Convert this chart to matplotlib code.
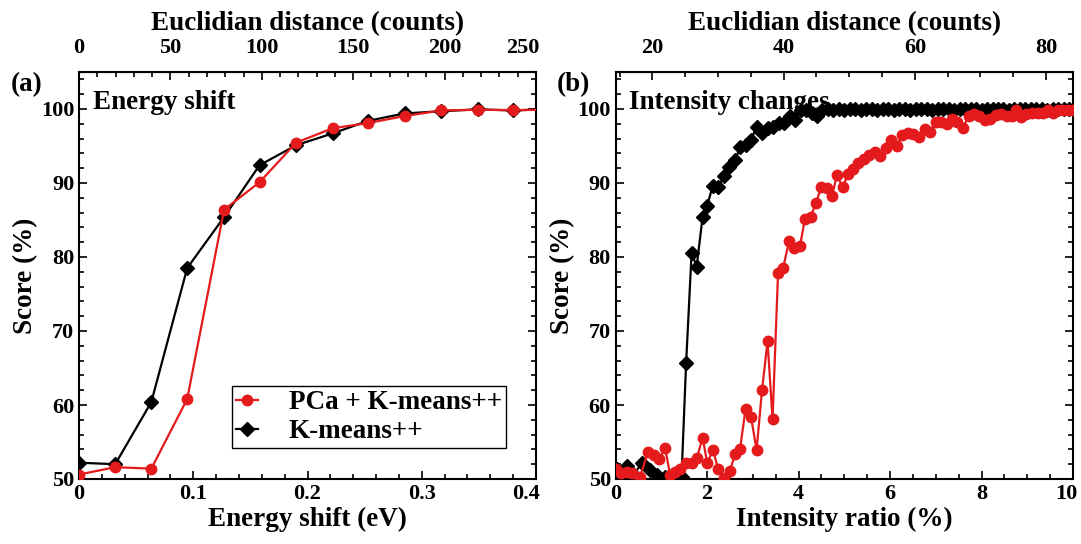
import matplotlib
matplotlib.use("Agg")
import matplotlib.pyplot as plt
from matplotlib.ticker import FixedLocator, MultipleLocator, FuncFormatter
import numpy as np

plt.rcParams['font.family'] = ['Liberation Serif', 'DejaVu Serif']
plt.rcParams['font.weight'] = 'bold'
plt.rcParams['axes.labelweight'] = 'bold'
plt.rcParams['mathtext.default'] = 'regular'

RED = '#e41a1c'

# ---------------- panel (a) data ----------------
energy_shift = [0.0, 0.0317, 0.0633, 0.0947, 0.127, 0.158, 0.190, 0.222,
                0.253, 0.285, 0.317, 0.349, 0.380, 0.412]
score_a_pca = [50.6, 51.6, 51.4, 60.8, 86.4, 90.1, 95.45, 97.4,
               98.1, 99.05, 99.8, 99.9, 99.85, 99.9]
score_a_km = [52.2, 52.0, 60.4, 78.5, 85.4, 92.4, 95.1, 96.7,
              98.4, 99.4, 99.7, 99.95, 99.8, 100.0]

# ---------------- panel (b) data ----------------
ratio_pca = [0.0, 0.12, 0.24, 0.36, 0.53, 0.71, 0.84, 0.95, 1.08, 1.19, 1.30,
             1.40, 1.54, 1.66, 1.78, 1.90, 2.00, 2.13, 2.24, 2.37, 2.50,
             2.61, 2.72, 2.84, 2.96, 3.08, 3.20, 3.32, 3.43, 3.55, 3.66,
             3.79, 3.90, 4.03, 4.14, 4.26, 4.38, 4.49, 4.61, 4.73, 4.84,
             4.96, 5.08, 5.19, 5.30, 5.42, 5.54, 5.67, 5.79, 5.91, 6.03,
             6.15, 6.27, 6.39, 6.50, 6.63, 6.76, 6.88, 7.00, 7.12, 7.24,
             7.36, 7.47, 7.59, 7.72, 7.83, 7.94, 8.07, 8.19, 8.31, 8.43,
             8.56, 8.67, 8.76, 8.87, 8.98, 9.11, 9.23, 9.34, 9.45, 9.56,
             9.68, 9.79, 9.90, 10.0]
score_b_pca = [51.3, 50.8, 51.0, 50.8, 50.3, 53.7, 53.2, 52.7, 54.2, 50.6, 51.0,
               51.3, 52.2, 52.2, 52.9, 55.6, 52.2, 53.9, 51.3, 50.1, 51.1,
               53.4, 54.1, 59.5, 58.4, 53.9, 62.0, 68.6, 58.1, 77.8, 78.5,
               82.1, 81.2, 81.5, 85.2, 85.4, 87.3, 89.4, 89.3, 88.3, 91.1,
               89.4, 91.2, 91.9, 92.7, 93.2, 93.8, 94.2, 93.6, 94.7, 95.8,
               95.0, 96.5, 96.8, 96.6, 96.2, 97.3, 96.9, 98.3, 98.2, 98.0,
               98.7, 98.2, 97.4, 99.1, 99.3, 99.0, 98.5, 98.6, 99.2, 99.3,
               99.1, 99.0, 99.8, 98.9, 99.3, 99.5, 99.4, 99.5, 99.8, 99.5,
               99.8, 99.9, 99.9, 99.8]

ratio_km = [0.02, 0.24, 0.39, 0.57, 0.75, 0.90, 1.08, 1.26, 1.44, 1.54, 1.66,
            1.77, 1.90, 2.00, 2.12, 2.24, 2.37, 2.48, 2.61, 2.72, 2.84,
            2.96, 3.08, 3.20, 3.32, 3.44, 3.57, 3.68, 3.81, 3.92, 4.05,
            4.17, 4.30, 4.40, 4.52, 4.64, 4.76, 4.88, 5.00, 5.12, 5.24,
            5.36, 5.48, 5.60, 5.72, 5.84, 5.96, 6.08, 6.20, 6.32, 6.44,
            6.56, 6.68, 6.80, 6.92, 7.04, 7.16, 7.28, 7.40, 7.52, 7.64,
            7.76, 7.88, 8.00, 8.12, 8.24, 8.36, 8.48, 8.60, 8.72, 8.84,
            8.96, 9.08, 9.20, 9.32, 9.44, 9.56, 9.68, 9.80, 9.92, 10.04]
score_b_km = [51.4, 51.8, 50.5, 52.2, 51.2, 50.5, 50.3, 50.3, 50.3, 65.7, 80.6,
              78.7, 85.4, 86.9, 89.6, 89.5, 90.9, 92.1, 93.1, 94.8, 95.1,
              95.8, 97.6, 96.8, 97.4, 97.6, 98.1, 98.1, 99.0, 98.5, 99.9,
              99.8, 99.5, 99.1, 99.9, 100.0, 99.9, 100.0, 99.9, 100.0, 100.0,
              99.9, 100.0, 100.0, 99.9, 100.0, 100.0, 99.9, 100.0, 100.0, 99.9,
              100.0, 100.0, 100.0, 99.9, 100.0, 100.0, 100.0, 99.9, 100.0, 100.0,
              100.0, 100.0, 99.9, 100.0, 100.0, 100.0, 100.0, 99.9, 100.0, 100.0,
              100.0, 100.0, 100.0, 100.0, 99.9, 100.0, 100.0, 100.0, 100.0, 100.0]

# tick labels
ticks_a_bottom = [0, 0.1, 0.2, 0.3]
ticks_a_top = [0, 50, 100, 150, 200]
ticks_b_bottom = [0, 2, 4, 6, 8]
ticks_b_top = [20, 40, 60, 80]
score_ticks = [50, 60, 70, 80, 90, 100]

# conversion to Euclidian distance (counts) for the top axes
COUNTS_PER_EV = 625.0
COUNTS_OFFSET_B = 14.4
COUNTS_PER_PCT = 6.97

fig = plt.figure(figsize=(10.81, 5.44), dpi=100)
axa = fig.add_axes([79/1081, 65/544, 457/1081, 407/544])
axb = fig.add_axes([615.7/1081, 65/544, 457.3/1081, 407/544])

TICK_FS = 16
LABEL_FS = 19.5
TOP_PAD = 10


def edge_label(ax, xval, text, xshift_px, top=False):
    # tick label at the right edge, nudged inward like the reference
    if top:
        ax.annotate(text, xy=(xval, 1), xycoords=('data', 'axes fraction'),
                    xytext=(xshift_px * 0.72, TOP_PAD), textcoords='offset points',
                    ha='center', va='bottom', fontsize=TICK_FS, fontweight='bold',
                    annotation_clip=False)
    else:
        ax.annotate(text, xy=(xval, 0), xycoords=('data', 'axes fraction'),
                    xytext=(xshift_px * 0.72, -3.5), textcoords='offset points',
                    ha='center', va='top', fontsize=TICK_FS, fontweight='bold',
                    annotation_clip=False)


def style(ax):
    ax.tick_params(which='both', direction='in', top=False, right=True,
                   labelsize=TICK_FS, width=1.2)
    ax.tick_params(which='major', length=6)
    ax.tick_params(which='minor', length=3.5)
    for s in ax.spines.values():
        s.set_linewidth(1.5)
    ax.set_ylim(50, 105)
    ax.yaxis.set_major_locator(FixedLocator(score_ticks))
    ax.yaxis.set_minor_locator(FixedLocator(np.arange(50, 105.1, 2)))
    ax.set_ylabel('Score (%)', fontsize=LABEL_FS, fontweight='bold', labelpad=2)


def style_top(sec, majors, minors):
    sec.xaxis.set_major_locator(FixedLocator(majors))
    sec.xaxis.set_minor_locator(FixedLocator(minors))
    sec.xaxis.set_major_formatter(FuncFormatter(lambda v, p: f'{v:.0f}'))
    sec.tick_params(which='both', direction='in', labelsize=TICK_FS, width=1.2, pad=TOP_PAD)
    sec.tick_params(which='major', length=6)
    sec.tick_params(which='minor', length=3.5)
    sec.set_xlabel('Euclidian distance (counts)', fontsize=LABEL_FS,
                   fontweight='bold', labelpad=6)


# ---- panel (a)
axa.plot(energy_shift, score_a_pca, '-o', color=RED, lw=1.6, ms=7.5,
         label='PCa + K-means++', zorder=3)
axa.plot(energy_shift, score_a_km, '-D', color='black', lw=1.6, ms=7,
         label='K-means++', zorder=2)
axa.set_xlim(0, 0.4)
style(axa)
axa.xaxis.set_major_locator(FixedLocator(ticks_a_bottom))
axa.xaxis.set_minor_locator(FixedLocator(np.arange(0.02, 0.401, 0.02)))
axa.xaxis.set_major_formatter(FuncFormatter(lambda v, p: '0' if abs(v) < 1e-9 else f'{v:.1f}'))
edge_label(axa, 0.4, '0.4', -10)
axa.set_xlabel('Energy shift (eV)', fontsize=LABEL_FS, fontweight='bold', labelpad=2)
axa.text(0.03, 0.955, 'Energy shift', transform=axa.transAxes, fontsize=LABEL_FS,
         fontweight='bold', va='top', ha='left')
leg = axa.legend(loc='lower right', bbox_to_anchor=(0.934, 0.075), fontsize=LABEL_FS,
                 frameon=True, fancybox=False, edgecolor='black', framealpha=1,
                 handlelength=0.8, handletextpad=1.15, borderpad=0.15,
                 labelspacing=0.15, borderaxespad=0)
leg.get_frame().set_linewidth(1.0)
for t in leg.get_texts():
    t.set_fontweight('bold')

seca = axa.secondary_xaxis('top', functions=(lambda e: e * COUNTS_PER_EV,
                                             lambda c: c / COUNTS_PER_EV))
style_top(seca, ticks_a_top, list(np.arange(10, 251, 10)))
edge_label(axa, 250 / COUNTS_PER_EV, '250', -13, top=True)

# ---- panel (b)
axb.plot(ratio_pca, score_b_pca, '-o', color=RED, lw=1.6, ms=7.5,
         label='PCa + K-means++', zorder=3)
axb.plot(ratio_km, score_b_km, '-D', color='black', lw=1.6, ms=7,
         label='K-means++', zorder=2)
axb.set_xlim(0, 10)
style(axb)
axb.xaxis.set_major_locator(FixedLocator(ticks_b_bottom))
axb.xaxis.set_minor_locator(FixedLocator(np.arange(0.5, 10.01, 0.5)))
axb.xaxis.set_major_formatter(FuncFormatter(lambda v, p: f'{v:.0f}'))
edge_label(axb, 10, '10', -7)
axb.set_xlabel('Intensity ratio (%)', fontsize=LABEL_FS, fontweight='bold', labelpad=2)
axb.text(0.03, 0.955, 'Intensity changes', transform=axb.transAxes, fontsize=LABEL_FS,
         fontweight='bold', va='top', ha='left')

secb = axb.secondary_xaxis('top', functions=(lambda r: COUNTS_OFFSET_B + r * COUNTS_PER_PCT,
                                             lambda c: (c - COUNTS_OFFSET_B) / COUNTS_PER_PCT))
style_top(secb, ticks_b_top, list(np.arange(15, 84.1, 5)))

for ax in (axa, axb):
    for lab in ax.get_xticklabels() + ax.get_yticklabels():
        lab.set_fontweight('bold')
for ax in (seca, secb):
    for lab in ax.get_xticklabels():
        lab.set_fontweight('bold')

fig.text(27/1081, 1 - 85/544, '(a)', fontsize=LABEL_FS, fontweight='bold', ha='center', va='center')
fig.text(573/1081, 1 - 85/544, '(b)', fontsize=LABEL_FS, fontweight='bold', ha='center', va='center')

fig.savefig('out.png', dpi=100)
